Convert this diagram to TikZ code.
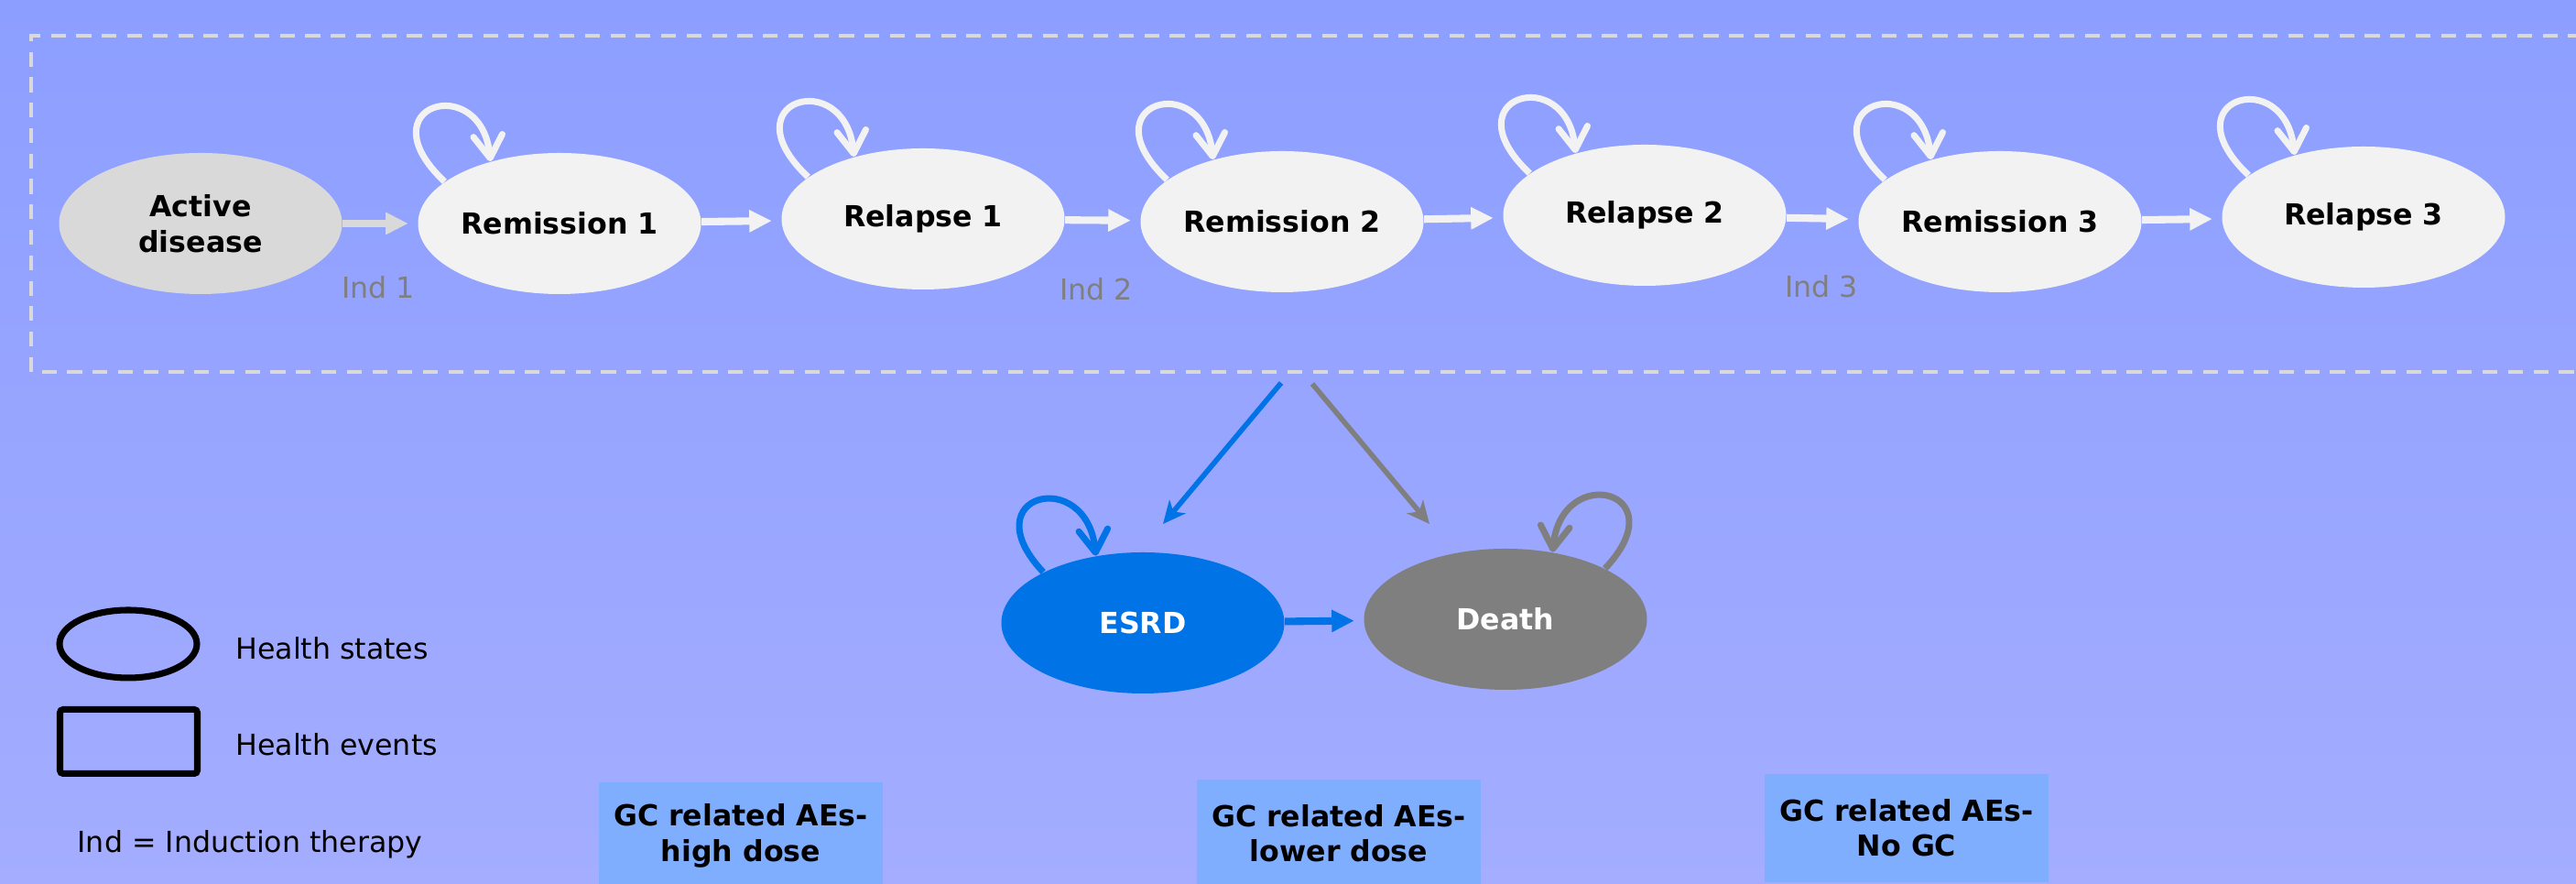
\documentclass[tikz,border=0pt]{standalone}
\usepackage{fontspec}
\setmainfont{DejaVu Sans}
\usetikzlibrary{shapes.geometric,arrows.meta}

\definecolor{bgtop}{RGB}{140,158,255}
\definecolor{bgbottom}{RGB}{164,173,255}
\definecolor{dashgray}{RGB}{217,217,217}
\definecolor{statewhite}{RGB}{242,242,242}
\definecolor{esrdblue}{RGB}{0,115,230}
\definecolor{deathgray}{RGB}{127,127,127}
\definecolor{gcblue}{RGB}{128,174,255}

\newcommand{\diagfont}{\fontsize{9pt}{11pt}\selectfont}

\begin{document}
\begin{tikzpicture}[font=\diagfont,
  hstate/.style={ellipse,fill=statewhite,minimum width=3.09cm,minimum height=1.54cm,inner sep=0pt,align=center,font=\diagfont\bfseries},
  flow/.style={line width=2.3pt,-{Triangle[length=7pt,width=6.5pt]},shorten >=0.1cm},
  exit/.style={line width=1.6pt,-{Stealth[length=7pt,width=6.5pt,inset=2pt]}},
  selfloop/.style={line width=2pt,-{Straight Barb[length=7pt,width=9pt,round]}},
  gcevent/.style={fill=gcblue,minimum width=3.1cm,minimum height=1.18cm,anchor=north,align=center,font=\diagfont\bfseries},
  indlabel/.style={text=deathgray}]
%\draw[help lines] (0,0) grid (28,9);
\useasboundingbox (0,0) rectangle (28.13,9.65);
\clip (0,0) rectangle (28.13,9.65);
\shade[top color=bgtop,bottom color=bgbottom] (0,0) rectangle (28.13,9.65);

\draw[dashgray,line width=1.1pt,dash pattern=on 4.6pt off 3.3pt] (0.34,5.59) rectangle (28.6,9.26);

\node[hstate,fill=dashgray] (act) at (2.19,7.21) {Active\\disease};
\foreach \n/\x/\y/\t in {rem1/6.11/7.21/Remission 1, rel1/10.08/7.26/Relapse 1, rem2/14.00/7.23/Remission 2, rel2/17.96/7.30/Relapse 2, rem3/21.84/7.23/Remission 3, rel3/25.81/7.28/Relapse 3}
  \node[hstate] (\n) at (\x,\y) {\t};

\draw[flow,dashgray] (act) -- (rem1);
\foreach \a/\b in {rem1/rel1, rel1/rem2, rem2/rel2, rel2/rem3, rem3/rel3}
  \draw[flow,statewhite] (\a) -- (\b);

\foreach \n in {rem1, rel1, rem2, rel2, rem3, rel3}
  \draw[selfloop,statewhite] (\n.160) .. controls +(-0.89,0.84) and +(-0.1,0.99) .. (\n.138);

\node[indlabel] (ind1) at (4.13,6.51) {Ind 1};
\node[indlabel] (ind2) at (11.97,6.49) {Ind 2};
\node[indlabel] (ind3) at (19.89,6.52) {Ind 3};

\node[hstate,fill=esrdblue,text=white] (esrd) at (12.48,2.85) {ESRD};
\node[hstate,fill=deathgray,text=white] (death) at (16.44,2.89) {Death};
\draw[flow,esrdblue] (esrd) -- (death);
\draw[selfloop,esrdblue] (esrd.153) .. controls +(-0.8,0.85) and +(-0.1,0.99) .. (esrd.125);
\draw[selfloop,deathgray] (death.27) .. controls +(0.8,0.85) and +(0.1,0.99) .. (death.55);

\coordinate (esrdfrom) at (13.99,5.47);
\coordinate (esrdto) at (12.70,3.93);
\coordinate (deathfrom) at (14.33,5.46);
\coordinate (deathto) at (15.61,3.93);
\draw[exit,esrdblue] (esrdfrom) -- (esrdto);
\draw[exit,deathgray] (deathfrom) -- (deathto);

% legend
\node[ellipse,draw,line width=2pt,minimum width=1.5cm,minimum height=0.74cm] (legstate) at (1.40,2.62) {};
\node[draw,line width=2pt,rounded corners=1pt,minimum width=1.5cm,minimum height=0.7cm] (legevent) at (1.405,1.555) {};
\node[anchor=west] (legstatetxt) at (2.45,2.57) {Health states};
\node[anchor=west] (legeventtxt) at (2.45,1.52) {Health events};
\node (legind) at (2.73,0.43) {Ind = Induction therapy};

\node[gcevent] (gchigh) at (8.09,1.12) {GC related AEs-\\high dose};
\node[gcevent] (gclow) at (14.62,1.15) {GC related AEs-\\lower dose};
\node[gcevent] (gcnone) at (20.82,1.21) {GC related AEs-\\No GC};
\end{tikzpicture}
\end{document}
